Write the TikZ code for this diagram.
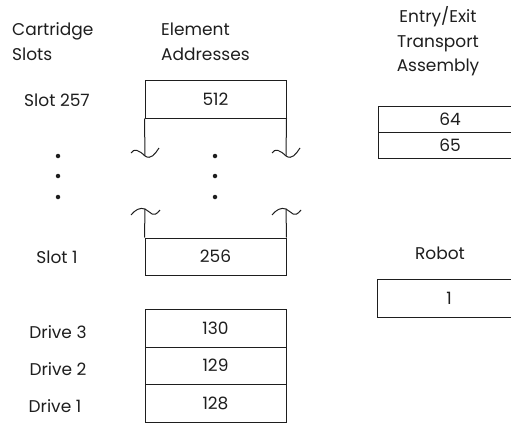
\documentclass[tikz,border=0pt]{standalone}
\usepackage{fontspec}
\setmainfont{Poppins}
\definecolor{ink}{HTML}{1E1E1E}
\tikzset{
  lbl/.style={font=\fontsize{17}{19}\selectfont, text=ink, inner sep=0pt},
  cell/.style={draw=ink, line width=1pt, inner sep=0pt, font=\fontsize{17}{19}\selectfont, text=ink},
  wire/.style={draw=ink, line width=1pt},
  dotmark/.style={circle, fill=ink, inner sep=0pt, minimum size=4.5pt}
}
\begin{document}
\begin{tikzpicture}[x=1pt,y=-1pt]
\clip (0,0) rectangle (511,423);
% headings
\node[lbl, anchor=base west] (h1a) at (12,35) {Cartridge};
\node[lbl, anchor=base west] (h1b) at (12,60) {Slots};
\node[lbl, anchor=base west] (h2a) at (161,35) {Element};
\node[lbl, anchor=base west] (h2b) at (161,60) {Addresses};
\node[lbl, anchor=base] (h3a) at (438,23) {Entry/Exit};
\node[lbl, anchor=base] (h3b) at (438,47) {Transport};
\node[lbl, anchor=base] (h3c) at (438,71) {Assembly};
% left labels
\node[lbl] (s257) at (57,100) {Slot 257};
\node[lbl] (s1) at (57,257) {Slot 1};
\node[lbl] (d3) at (58,332) {Drive 3};
\node[lbl] (d2) at (58,369) {Drive 2};
\node[lbl] (d1) at (55,406) {Drive 1};
% element address boxes
\node[cell, minimum width=141pt, minimum height=38pt] (b512) at (215.5,99) {512};
\node[cell, minimum width=141pt, minimum height=37pt] (b256) at (215.5,256.5) {256};
\node[cell, minimum width=141pt, minimum height=38pt] (b130) at (215.5,328) {130};
\node[cell, minimum width=141pt, minimum height=37pt] (b129) at (215.5,365.5) {129};
\node[cell, minimum width=141pt, minimum height=38pt] (b128) at (215.5,403) {128};
% break lines
\coordinate (tl) at (145,156);
\coordinate (tr) at (286,156);
\coordinate (bl) at (145,209);
\coordinate (br) at (286,209);
\draw[wire] (b512.south west) -- (tl);
\draw[wire] (b512.south east) -- (tr);
\draw[wire] (bl) -- (b256.north west);
\draw[wire] (br) -- (b256.north east);
\foreach \c in {tl,tr}{
  \draw[wire] ([shift={(-14,-3)}]\c) .. controls ([shift={(-11,-8)}]\c) and ([shift={(-6,-6)}]\c) .. (\c)
     .. controls ([shift={(6,4)}]\c) and ([shift={(10,-2)}]\c) .. ([shift={(14,-8)}]\c);
}
\foreach \c in {bl,br}{
  \draw[wire] ([shift={(-14,6)}]\c) .. controls ([shift={(-10,1)}]\c) and ([shift={(-5,-2)}]\c) .. (\c)
     .. controls ([shift={(6,3)}]\c) and ([shift={(8,10)}]\c) .. ([shift={(15,1)}]\c);
}
% dots
\node[dotmark] (dl1) at (58,156) {};
\node[dotmark] (dl2) at (58,176) {};
\node[dotmark] (dl3) at (58,197) {};
\node[dotmark] (dm1) at (215,156) {};
\node[dotmark] (dm2) at (215,176) {};
\node[dotmark] (dm3) at (215,197) {};
% right boxes
\node[cell, minimum width=144pt, minimum height=26pt] (b64) at (450,119) {64};
\node[cell, minimum width=144pt, minimum height=26pt] (b65) at (450,145) {65};
\node[lbl] (rob) at (440,253) {Robot};
\node[cell, minimum width=144pt, minimum height=38pt] (b1) at (449,298) {1};
\end{tikzpicture}
\end{document}
